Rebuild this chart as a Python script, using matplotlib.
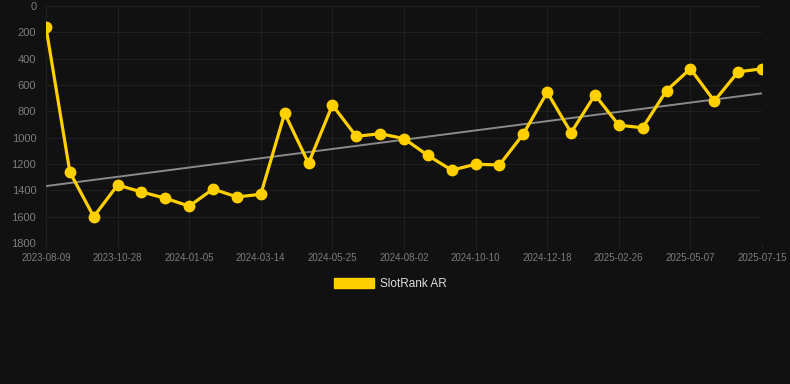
import numpy as np
import matplotlib
matplotlib.use('Agg')
import matplotlib.pyplot as plt
from matplotlib.patches import Patch

plt.rcParams['font.family'] = ['Liberation Sans', 'DejaVu Sans']

# rank values, one per point (lower is better, axis inverted)
ranks = [162, 1262, 1600, 1360, 1412, 1460, 1520, 1390, 1450, 1430,
         815, 1195, 752, 990, 970, 1007, 1135, 1247, 1202, 1207,
         972, 655, 962, 675, 905, 925, 642, 477, 722, 500, 477]
tick_labels = ['2023-08-09', '2023-10-28', '2024-01-05', '2024-03-14', '2024-05-25',
               '2024-08-02', '2024-10-10', '2024-12-18', '2025-02-26', '2025-05-07',
               '2025-07-15']
series_name = 'SlotRank AR'

bg = '#111111'
yellow = '#ffd000'
grid_c = '#1f1f1f'
tick_c = '#7c7c7c'

x = np.arange(len(ranks))
slope, inter = np.polyfit(x, ranks, 1)

fig = plt.figure(figsize=(7.9, 3.84), dpi=100, facecolor=bg)
ax = fig.add_axes([46/790, 141/384, 716/790, 237/384])
ax.set_facecolor(bg)

ax.plot(x, slope*x + inter, color='#8a8a8a', lw=1.4, zorder=2)
ax.plot(x, ranks, color=yellow, lw=2.3, marker='o', ms=7.5, zorder=3)

ax.set_xlim(0, len(ranks)-1)
ax.set_ylim(1800, 0)
ax.set_yticks(range(0, 1801, 200))
ax.set_xticks(x[::3])
ax.set_xticklabels(tick_labels)
ax.grid(True, color=grid_c, lw=0.8)
for s in ax.spines.values():
    s.set_visible(False)
ax.tick_params(axis='x', colors=grid_c, labelcolor=tick_c, labelsize=7, length=4, pad=3)
ax.tick_params(axis='y', colors=grid_c, labelcolor=tick_c, labelsize=8, length=0, pad=7)
ax.set_axisbelow(True)

fig.legend(handles=[Patch(facecolor=yellow, edgecolor=yellow)], labels=[series_name],
           loc='center', bbox_to_anchor=(390/790, 1-284/384), frameon=False,
           fontsize=8.5, labelcolor='#dddddd', handlelength=3.4, handleheight=1.0,
           handletextpad=0.5)

fig.savefig('out.png', dpi=100, facecolor=bg)
